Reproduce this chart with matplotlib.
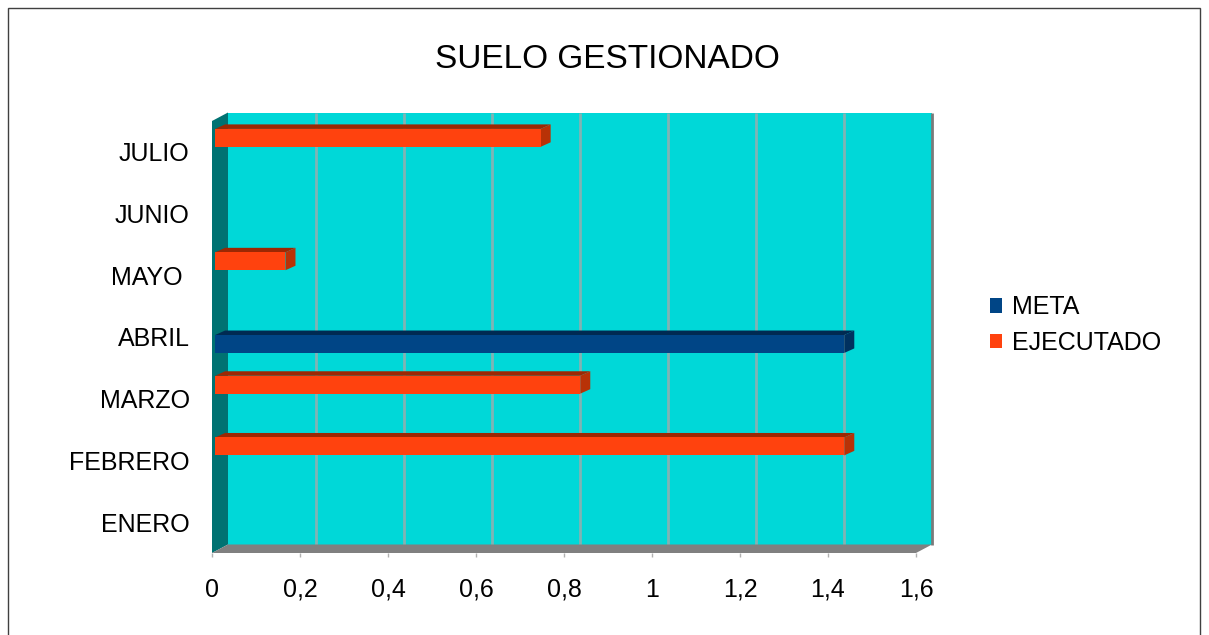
import matplotlib
matplotlib.use("Agg")
import matplotlib.pyplot as plt
from matplotlib.patches import Polygon, Rectangle, Patch
from matplotlib.transforms import ScaledTranslation
import numpy as np

plt.rcParams['font.family'] = ['Liberation Sans', 'DejaVu Sans']

# ---- data ----
categories = ["ENERO", "FEBRERO", "MARZO", "ABRIL", "MAYO ", "JUNIO", "JULIO"]
meta = [0, 0, 0, 1.43, 0, 0, 0]
ejecutado = [0, 1.43, 0.83, 0, 0.16, 0, 0.74]
series_names = ["META", "EJECUTADO"]
xticks = [0, 0.2, 0.4, 0.6, 0.8, 1.0, 1.2, 1.4, 1.6]
xticklabels = ["0", "0,2", "0,4", "0,6", "0,8", "1", "1,2", "1,4", "1,6"]
title = "SUELO GESTIONADO"

# ---- style ----
W, H, DPI = 1209, 635, 100
c_meta, c_meta_top, c_meta_side = "#004586", "#002a52", "#00315f"
c_ejec, c_ejec_top, c_ejec_side = "#ff420e", "#9c2804", "#b83207"
c_wall, c_side, c_floor, c_grid = "#00d8d8", "#007272", "#808080", "#80b4b4"

fig = plt.figure(figsize=(W / DPI, H / DPI), dpi=DPI)
fig.patch.set_facecolor("white")

# axes = front frame of 3D box (px)
L, R, T, B = 212, 916, 121, 553
ax = fig.add_axes([L / W, (H - B) / H, (R - L) / W, (B - T) / H])
ax.set_xlim(0, 1.6)
ax.set_ylim(-0.5, len(categories) - 0.5)
ax.patch.set_visible(False)
for s in ax.spines.values():
    s.set_visible(False)

DX, DY = 16, 8.5  # depth offset of back wall in px
back = ax.transAxes + ScaledTranslation(DX / DPI, DY / DPI, fig.dpi_scale_trans)
backd = ax.transData + ScaledTranslation(DX / DPI, DY / DPI, fig.dpi_scale_trans)

# back wall
ax.add_patch(Rectangle((0, 0), 1, 1, transform=back, facecolor=c_wall,
                       edgecolor="none", zorder=0.5, clip_on=False))
ax.plot([1, 1], [0, 1], transform=back, color="#7a7a7a", lw=2, zorder=0.6,
        solid_capstyle="butt", clip_on=False)
# gridlines on back wall
ax.vlines(xticks[1:-1], -0.5, len(categories) - 0.5, transform=backd,
          color=c_grid, lw=2, zorder=0.7, clip_on=False)

# left wall and floor in display coords
p00 = ax.transAxes.transform((0, 0))
p01 = ax.transAxes.transform((0, 1))
p10 = ax.transAxes.transform((1, 0))
off = np.array([DX, DY])
ax.add_patch(Polygon([p00, p01, p01 + off, p00 + off], closed=True,
                     transform=None, facecolor=c_side, edgecolor="none",
                     zorder=0.8, clip_on=False))
ax.add_patch(Polygon([p00, p10, p10 + off, p00 + off], closed=True,
                     transform=None, facecolor=c_floor, edgecolor="none",
                     zorder=0.9, clip_on=False))

# bars with 3D top/side faces
y = np.arange(len(categories))
h = 0.29
bdx, bdy = 10, 4.5
bx0 = 0.007
for vals, off_y, c, ct, cs in [(meta, -0.113, c_meta, c_meta_top, c_meta_side),
                               (ejecutado, 0.227, c_ejec, c_ejec_top, c_ejec_side)]:
    vals = np.array(vals)
    m = vals > 0
    bars = ax.barh(y[m] + off_y, vals[m], height=h, left=bx0, color=c,
                   zorder=3, clip_on=False)
    for yy, v in zip(y[m] + off_y, vals[m]):
        x0, yb = ax.transData.transform((bx0, yy - h / 2))
        x1, yt = ax.transData.transform((bx0 + v, yy + h / 2))
        top = [(x0, yt), (x1, yt), (x1 + bdx, yt + bdy), (x0 + bdx, yt + bdy)]
        side = [(x1, yb), (x1, yt), (x1 + bdx, yt + bdy), (x1 + bdx, yb + bdy)]
        ax.add_patch(Polygon(top, closed=True, transform=None, facecolor=ct,
                             edgecolor="none", zorder=2.5, clip_on=False))
        ax.add_patch(Polygon(side, closed=True, transform=None, facecolor=cs,
                             edgecolor="none", zorder=2.5, clip_on=False))

# ticks
ax.set_yticks(y)
ax.set_yticklabels(categories, fontsize=18)
ax.tick_params(axis="y", length=0, pad=16)
ax.set_xticks(xticks)
ax.set_xticklabels(xticklabels, fontsize=18)
ax.tick_params(axis="x", length=3, width=1, color="#b0b0b0", pad=15)

# title
fig.text(607 / W, 1 - 60 / H, title, ha="center", va="center", fontsize=24)

# legend
handles = [Patch(facecolor=c_meta), Patch(facecolor=c_ejec)]
fig.legend(handles, series_names, loc="center left",
           bbox_to_anchor=(972 / W, 1 - 325 / H), frameon=False, fontsize=18,
           handlelength=0.5, handleheight=0.5, handletextpad=0.4,
           labelspacing=0.45, borderpad=0.2)

# outer border
fig.add_artist(Rectangle((8 / W, -0.05), (1200 - 8) / W, 1.05 - 8 / H,
                         transform=fig.transFigure, facecolor="none",
                         edgecolor="#404040", lw=1))

fig.savefig("out.png", dpi=DPI)
